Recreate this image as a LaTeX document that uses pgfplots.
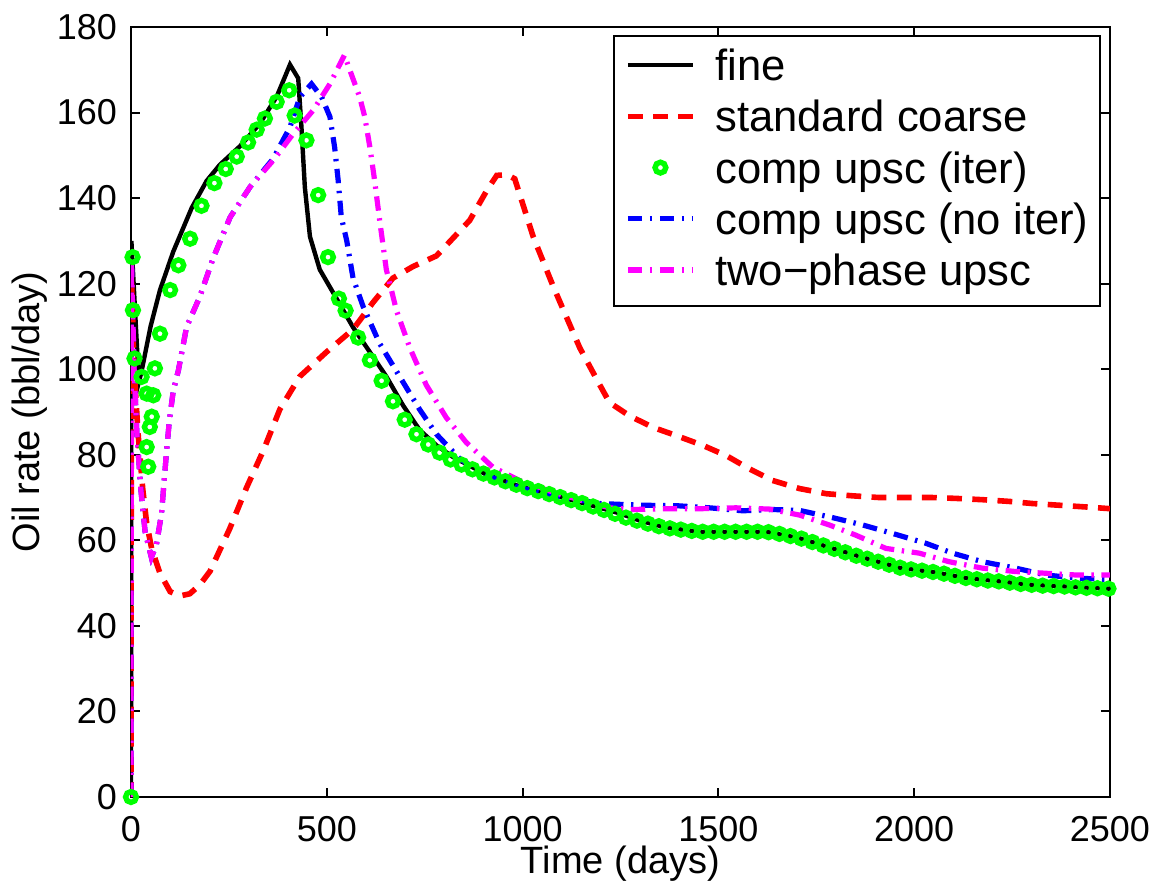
\documentclass[border=0pt]{standalone}
\usepackage{fontspec}
\setmainfont{Liberation Sans}
\usepackage{pgfplots}
\pgfplotsset{compat=1.18}
\definecolor{mgt}{rgb}{1,0,1}
\definecolor{grn}{rgb}{0,1,0}
\definecolor{rd}{rgb}{1,0,0}
\definecolor{bl}{rgb}{0,0,1}
\begin{document}
\begin{tikzpicture}
\begin{axis}[
  at={(0,0)}, anchor=south west,
  scale only axis, width=244.75pt, height=192.5pt,
  xmin=0, xmax=2500, ymin=0, ymax=180,
  xtick={0,500,...,2500}, ytick={0,20,...,180},
  xtick pos=both, ytick pos=both,
  xticklabel pos=lower, yticklabel pos=left,
  tick align=inside, major tick length=2.2pt,
  /pgf/number format/assume math mode=true,
  /pgf/number format/1000 sep={},
  tick label style={font=\fontsize{9}{10}\selectfont},
  xticklabel style={yshift=-1.2pt},
  xlabel={Time (days)}, ylabel={Oil rate (bbl/day)},
  label style={font=\fontsize{9.5}{11}\selectfont},
  xlabel style={at={(axis description cs:0.5,0)}, anchor=base, yshift=-19.25pt},
  ylabel style={at={(axis description cs:-0.093,0.5)}, anchor=base},
  axis line style={line width=0.5pt},
  every tick/.style={black, line width=0.5pt},
  legend style={at={(rel axis cs:0.9905,0.9896)}, anchor=north east,
    font=\fontsize{10.9}{13}\selectfont, draw=black, line width=0.5pt,
    inner xsep=2.8pt, inner ysep=1.7pt, row sep=0pt,
    nodes={inner sep=0pt, text height=9.5pt, text depth=3.3pt, anchor=base west},
    /tikz/every odd column/.style={column sep=4.9pt}},
  legend cell align=left,
  legend image code/.code={\draw[mark repeat=2,mark phase=2,#1] plot coordinates {(0pt,3.9pt) (8.125pt,3.9pt) (16.25pt,3.9pt)};},
]
% fine
\addplot[black, line width=1.1pt] coordinates {
(0,0) (1,130) (20,97) (27,99.5) (50,110) (74,118.5) (108,127.5) (155,137.7) (193,144)
(227,147.8) (278,152.1) (329,157.4) (372,163.7) (406,171.2) (427,168) (435,157)
(444,142.5) (457,131) (482,123.3) (525,116.5) (567,109.8) (610,104) (652,98.3)
(695,91.5) (737,85.8) (780,82.2) (822,79.5) (907,75.4) (992,72.6) (1078,70.6)
(1163,68.5) (1248,66.3) (1300,64.6) (1366,63.0) (1451,62.0) (1536,62.0) (1621,62.0)
(1707,60.5) (1792,58.1) (1877,55.8) (1962,53.6) (2047,52.6) (2132,51.2) (2217,50.4)
(2302,49.6) (2387,49.2) (2500,48.7)};
\addlegendentry{fine}
% standard coarse
\addplot[rd, line width=1.4pt, dash pattern=on 3.7pt off 2.6pt] coordinates {
(0,0) (1,122) (8,100) (18,85) (30,72) (40,64) (53,58) (74,52.3) (100,48) (125,47)
(150,47.5) (175,49.5) (202,52.8) (252,62.7) (295,72.3) (338,81) (380,90.6) (431,98.3)
(499,104) (567,109.3) (618,115.6) (669,121.3) (720,124) (780,126.5) (865,134.8)
(910,142) (934,145.3) (960,145.5) (980,144.5) (1027,131) (1078,119.4) (1146,105)
(1196,96.5) (1222,92.2) (1273,89.1) (1333,86.4) (1392,84.5) (1460,82.2) (1520,79.8)
(1579,76.7) (1638,74.0) (1707,72.1) (1775,70.9) (1843,70.4) (1911,70.0) (1979,70.0)
(2047,70.0) (2106,69.8) (2174,69.5) (2242,69.1) (2302,68.6) (2370,68.2) (2438,67.8)
(2500,67.4)};
\addlegendentry{standard coarse}
% comp upsc (iter)
\addplot[only marks, mark=o, mark size=1.35pt, grn, mark options={line width=1.35pt, solid}] coordinates {
(0,0) (4,126.2) (5,113.8) (9,102.5) (27,98.2) (40,94.3) (40,81.8) (44,77.2) (48,86.5)
(53,88.9) (57,93.9) (61,100.2) (74,108.3) (100,118.5) (121,124.3) (151,130.5)
(180,138.2) (213,143.5) (242,146.8) (270,149.7) (299,153) (321,156) (342,158.6)
(372,162.5) (404,165.2) (418,159.3) (448,153.5) (478,140.7) (503,126.2) (531,116.5)
(548,113.7) (580,107.4) (610,102.1) (640,97.3) (669,92.5) (699,88.2) (729,84.8)
(759,82.4) (788,80.5) (816,78.9) (844,77.7) (872,76.6) (900,75.6) (928,74.7)
(956,73.8) (984,73.0) (1012,72.2) (1040,71.5) (1068,70.8) (1096,70.1) (1124,69.4)
(1152,68.7) (1180,67.9) (1208,67.1) (1236,66.2) (1264,65.3) (1292,64.6) (1320,63.9)
(1348,63.3) (1376,62.8) (1404,62.5) (1432,62.2) (1460,62.0) (1488,62.0) (1516,62.0)
(1544,62.0) (1572,62.0) (1600,62.0) (1628,61.9) (1656,61.5) (1684,61.0) (1712,60.4)
(1740,59.6) (1768,58.8) (1796,58.0) (1824,57.2) (1852,56.4) (1880,55.7) (1908,55.0)
(1936,54.3) (1964,53.6) (1992,53.2) (2020,52.9) (2048,52.6) (2076,52.2) (2104,51.7)
(2132,51.2) (2160,50.9) (2188,50.6) (2216,50.4) (2244,50.1) (2272,49.8) (2300,49.6)
(2328,49.4) (2356,49.3) (2384,49.2) (2412,49.0) (2440,48.9) (2468,48.8) (2496,48.7)};
\addlegendentry{comp upsc (iter)}
% comp upsc (no iter)
\addplot[bl, line width=1.3pt, dash pattern=on 3.6pt off 1.9pt on 0.6pt off 1.9pt] coordinates {
(0,0) (1,126) (8,100) (15,85) (25,72) (36,62) (52,56) (65,59) (78,66.3) (91,81)
(98,88) (108,95) (121,99.7) (142,109.9) (176,117) (210,126) (253,135.5) (304,142.6)
(363,149.2) (406,156.6) (431,163.6) (461,166.7) (487,163.6) (508,159) (520,151.9)
(529,144.2) (537,135.6) (551,130) (567,121.3) (593,114.6) (635,106) (686,98.3)
(737,90.6) (780,84.8) (839,79.1) (907,75.2) (992,72.3) (1077,70.5) (1196,68.6)
(1307,68.2) (1392,68.1) (1477,67.6) (1562,66.9) (1638,67.2) (1707,67.0) (1792,65.3)
(1868,63.6) (1945,61.6) (2030,59.3) (2098,57.0) (2174,55.0) (2259,53.5) (2336,51.9)
(2412,51.2) (2500,50.8)};
\addlegendentry{comp upsc (no iter)}
% two-phase upsc
\addplot[mgt, line width=1.3pt, dash pattern=on 3.6pt off 1.9pt on 0.6pt off 1.9pt] coordinates {
(0,0) (1,126) (8,100) (15,85) (25,72) (36,62) (52,56) (65,59) (78,66.3) (91,81)
(98,88) (108,95) (121,99.7) (142,109.9) (176,117) (210,126) (253,135.5) (304,142.6)
(363,148.8) (414,155) (465,160.5) (508,166.7) (545,173.4) (584,163.6) (597,159)
(610,151.9) (622,144.2) (635,134.8) (652,123.3) (678,113.7) (712,105) (754,96.3)
(805,88.7) (856,82.9) (924,77.1) (992,74.0) (1077,71.3) (1162,69.0) (1222,67.6)
(1281,67.2) (1366,67.4) (1460,67.4) (1545,67.6) (1630,67.3) (1707,65.9) (1783,63.6)
(1851,61.2) (1928,58.1) (2013,57.0) (2089,55.0) (2174,53.5) (2259,52.7) (2336,52.3)
(2412,51.9) (2500,51.9)};
\addlegendentry{two\textminus phase upsc}
\end{axis}
\pgfresetboundingbox
\path (-32.75pt,-22pt) rectangle (256.5pt,199.25pt);
\end{tikzpicture}
\end{document}
